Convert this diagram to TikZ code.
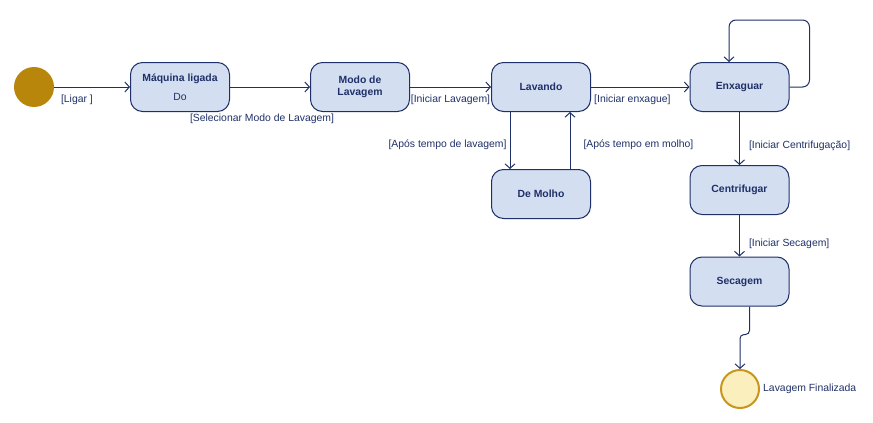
\documentclass[tikz,border=0pt]{standalone}
\usepackage{fontspec}
\setmainfont{Liberation Sans}
\usetikzlibrary{arrows.meta}
\definecolor{navy}{HTML}{1F3068}
\definecolor{caixa}{HTML}{D3DEF1}
\definecolor{ouro}{HTML}{B8860B}
\definecolor{creme}{HTML}{FCEFBE}
\definecolor{ourob}{HTML}{C8961E}

\tikzset{
  estado/.style = {draw=navy, fill=caixa, rounded corners=12pt, line width=1pt,
    minimum width=99pt, minimum height=49pt, align=center, text=navy,
    font=\fontsize{10.4}{12.5}\selectfont\bfseries},
  seta/.style = {draw=navy, line width=1pt, -{Straight Barb[length=4.5pt,width=10pt]}},
  rot/.style = {text=navy, inner sep=1pt, font=\fontsize{10.4}{12}\selectfont}
}

\begin{document}
\begin{tikzpicture}[x=1pt, y=-1pt]
\useasboundingbox (0,0) rectangle (873,423);

% estados
\node[circle, fill=ouro, minimum size=40pt, inner sep=0pt] (inicio) at (34,87) {};
\node[estado] (ligada) at (180,87) {M\'aquina ligada\\[7pt]{\mdseries Do}};
\node[estado] (modo) at (360,87) {Modo de\\Lavagem};
\node[estado] (lavando) at (541,87) {Lavando};
\node[estado] (molho) at (541,194) {De Molho};
\node[estado] (enxaguar) at (739.5,87) {Enxaguar};
\node[estado] (centrif) at (739.5,190) {Centrifugar};
\node[estado] (secagem) at (739.5,281.5) {Secagem};
\node[circle, draw=ourob, line width=2pt, fill=creme, minimum size=38pt, inner sep=0pt] (fim) at (740,389) {};
\node[rot, right=2pt] (fimtxt) at (fim.east) {Lavagem Finalizada};

% transicoes
\draw[seta] (inicio) -- node[rot, below=6pt, pos=0.3] {[Ligar ]} (ligada);
\draw[seta] (ligada) -- node[rot, below=25pt, pos=0.4] {[Selecionar Modo de Lavagem]} (modo);
\draw[seta] (modo) -- node[rot, below=6pt, pos=0.5] {[Iniciar Lavagem]} (lavando);
\draw[seta] (lavando) -- node[rot, below=6pt, pos=0.42] {[Iniciar enxague]} (enxaguar);
\draw[seta] ([xshift=-31pt]lavando.south) -- node[rot, left=2pt, yshift=-4pt] {[Ap\'os tempo de lavagem]} ([xshift=-31pt]molho.north);
\draw[seta] ([xshift=29pt]molho.north) -- node[rot, right=12pt, yshift=-4pt] {[Ap\'os tempo em molho]} ([xshift=29pt]lavando.south);
\draw[seta, rounded corners=7pt] (enxaguar.east) -| ++(20,-67) -| ([xshift=-10.5pt]enxaguar.north);
\draw[seta] (enxaguar) -- node[rot, right=8pt, yshift=-7pt] {[Iniciar Centrifuga\c{c}\~ao]} (centrif);
\draw[seta] (centrif) -- node[rot, right=8pt, pos=0.7] {[Iniciar Secagem]} (secagem);
\draw[seta, rounded corners=4pt] ([xshift=10pt]secagem.south) -- ++(0,28) -| (fim.north);
\end{tikzpicture}
\end{document}
